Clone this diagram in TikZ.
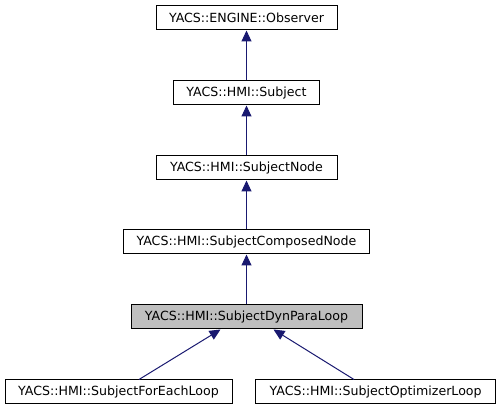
\documentclass[tikz,border=0pt]{standalone}
\usepackage{fontspec}
\setmainfont{DejaVu Sans}
\usetikzlibrary{arrows.meta,calc}

\definecolor{edgeblue}{HTML}{191970}
\definecolor{boxgray}{HTML}{BFBFBF}

\tikzset{
  classbox/.style={draw=black, fill=white, line width=1pt, minimum height=24pt,
    inner sep=0pt, font=\fontsize{12.6}{15}\selectfont},
  curclass/.style={classbox, fill=boxgray},
  inherit/.style={draw=edgeblue, line width=1pt,
    {Triangle[length=11pt,width=10pt,fill=edgeblue]}-},
}

\begin{document}
\begin{tikzpicture}[x=1pt,y=-1pt]
  \useasboundingbox (0,0) rectangle (501,411); %Fix margins

  \node[classbox, minimum width=181pt] (observer) at (246.5,18) {YACS::ENGINE::Observer}; %Top base class
  \node[classbox, minimum width=146pt] (subject) at (246.5,93) {YACS::HMI::Subject};
  \node[classbox, minimum width=181pt] (subjnode) at (246.5,168) {YACS::HMI::SubjectNode};
  \node[classbox, minimum width=246pt] (composed) at (246.5,242) {YACS::HMI::SubjectComposedNode};
  \node[curclass, minimum width=231pt] (dynpara) at (246.5,317) {YACS::HMI::SubjectDynParaLoop}; %Current class
  \node[classbox, minimum width=227pt] (foreach) at (118.5,392) {YACS::HMI::SubjectForEachLoop}; %Derived class 1
  \node[classbox, minimum width=240pt] (optimizer) at (375.7,392) {YACS::HMI::SubjectOptimizerLoop}; %Derived class 2

  \draw[inherit] (observer) -- (subject);   %Subject -> Observer
  \draw[inherit] (subject) -- (subjnode);   %SubjectNode -> Subject
  \draw[inherit] (subjnode) -- (composed);  %ComposedNode -> SubjectNode
  \draw[inherit] (composed) -- (dynpara);   %DynParaLoop -> ComposedNode

  \draw[inherit] ($(dynpara.south)+(-26,0)$) -- ($(foreach.north)+(20.5,0)$);   %ForEachLoop -> DynParaLoop
  \draw[inherit] ($(dynpara.south)+(27,0)$) -- ($(optimizer.north)+(-21.7,0)$); %OptimizerLoop -> DynParaLoop
\end{tikzpicture}
\end{document}
